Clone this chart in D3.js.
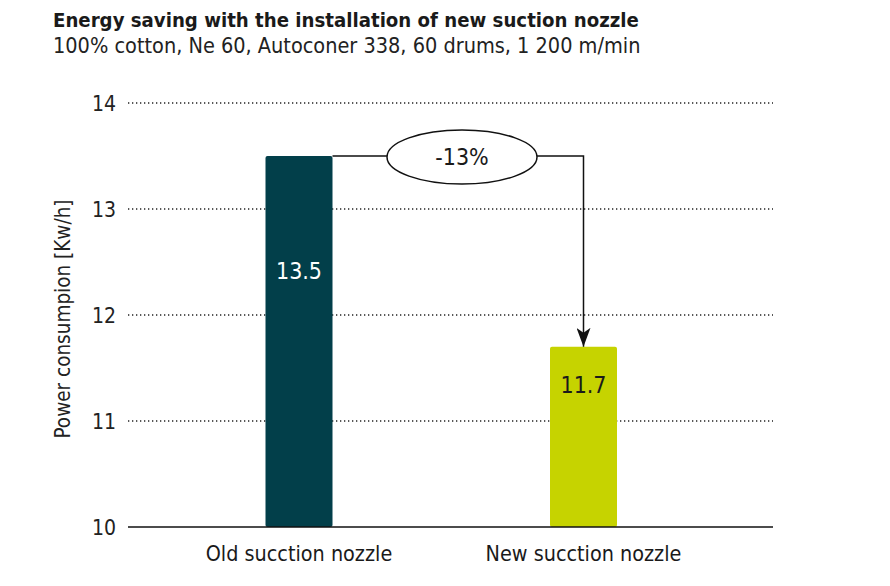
<!DOCTYPE html>
<html><head><meta charset="utf-8">
<script src="https://cdn.jsdelivr.net/npm/d3@7"></script>
<style>
body{margin:0;background:#fff;}
text{font-family:"DejaVu Sans Condensed","Liberation Sans Narrow","Noto Sans",sans-serif;}
</style></head>
<body><svg id="c" width="890" height="586"></svg>
<script>
const categories = ["Old sucction nozzle", "New sucction nozzle"];
const values = [13.5, 11.7];
const labelAt = [12.42, 11.34];
const barColors = ["#023f4a", "#c6d300"];
const yTicks = [10, 11, 12, 13, 14];
const changeLabel = "-13%";
const title = "Energy saving with the installation of new suction nozzle";
const subtitle = "100% cotton, Ne 60, Autoconer 338, 60 drums, 1 200 m/min";
const yTitle = "Power consumpion [Kw/h]";

const svg = d3.select("#c");
const pl = 128, pr = 773, pt = 103, pb = 527;
const barW = 67;
const x = d3.scalePoint().domain(categories).range([299, 583.5]);
const y = d3.scaleLinear().domain([10, 14]).range([pb, pt]);

svg.append("text").attr("x", 53).attr("y", 27).attr("font-size", 20.2).attr("font-weight", "bold").attr("fill", "#1a1a1a").text(title);
svg.append("text").attr("x", 53).attr("y", 53).attr("font-size", 21.5).attr("fill", "#222").text(subtitle);

// gridlines
svg.append("g").selectAll("line").data(yTicks.filter(d => d > 10)).join("line")
  .attr("x1", pl).attr("x2", pr)
  .attr("y1", d => y(d)).attr("y2", d => y(d))
  .attr("stroke", "#222").attr("stroke-width", 1.3).attr("stroke-dasharray", "1.3,2.7");

// y axis tick labels
const yAxis = d3.axisLeft(y).tickValues(yTicks).tickFormat(d3.format("d")).tickSize(0).tickPadding(0);
const ga = svg.append("g").attr("transform", `translate(116,0)`).call(yAxis);
ga.select(".domain").remove();
ga.selectAll("text").attr("font-size", 21).attr("fill", "#222").attr("font-family", null).attr("dy", "0.35em");

svg.append("text").attr("transform", `translate(70,${(pt + pb) / 2 + 4}) rotate(-90)`)
  .attr("text-anchor", "middle").attr("font-size", 20.5).attr("fill", "#222").text(yTitle);

// bars
svg.append("g").selectAll("rect").data(values).join("rect")
  .attr("x", (d, i) => x(categories[i]) - barW / 2)
  .attr("width", barW)
  .attr("y", d => y(d))
  .attr("height", d => y(10) - y(d))
  .attr("rx", 2)
  .attr("fill", (d, i) => barColors[i]);

// value labels
svg.append("g").selectAll("text").data(values).join("text")
  .attr("x", (d, i) => x(categories[i]))
  .attr("y", (d, i) => y(labelAt[i]))
  .attr("dy", "0.36em")
  .attr("text-anchor", "middle").attr("font-size", 23)
  .attr("fill", (d, i) => i === 0 ? "#fff" : "#1a1a1a")
  .text(d => d.toFixed(1));

// baseline
svg.append("line").attr("x1", pl).attr("x2", pr).attr("y1", pb).attr("y2", pb)
  .attr("stroke", "#111").attr("stroke-width", 1.5);

// category labels
svg.append("g").selectAll("text").data(categories).join("text")
  .attr("x", d => x(d)).attr("y", 561)
  .attr("text-anchor", "middle").attr("font-size", 21.4).attr("fill", "#1a1a1a").text(d => d);

// arrow annotation
const defs = svg.append("defs");
defs.append("marker").attr("id", "ah").attr("viewBox", "0 0 19 14").attr("refX", 19).attr("refY", 7)
  .attr("markerWidth", 19).attr("markerHeight", 14).attr("markerUnits", "userSpaceOnUse").attr("orient", "auto")
  .append("path").attr("d", "M0,0 L19,7 L0,14 L5,7 Z").attr("fill", "#111");
const x0 = x(categories[0]) + barW / 2;
const x1 = x(categories[1]);
const yTop = y(values[0]);
svg.append("path")
  .attr("d", `M${x0},${yTop} H${x1} V${y(values[1])}`)
  .attr("fill", "none").attr("stroke", "#111").attr("stroke-width", 1.5)
  .attr("marker-end", "url(#ah)");
const ex = 462;
svg.append("ellipse").attr("cx", ex).attr("cy", yTop + 1).attr("rx", 75).attr("ry", 27)
  .attr("fill", "#fff").attr("stroke", "#111").attr("stroke-width", 1.5);
svg.append("text").attr("x", ex).attr("y", yTop + 9).attr("text-anchor", "middle")
  .attr("font-size", 23).attr("fill", "#1a1a1a").text(changeLabel);
</script></body></html>
